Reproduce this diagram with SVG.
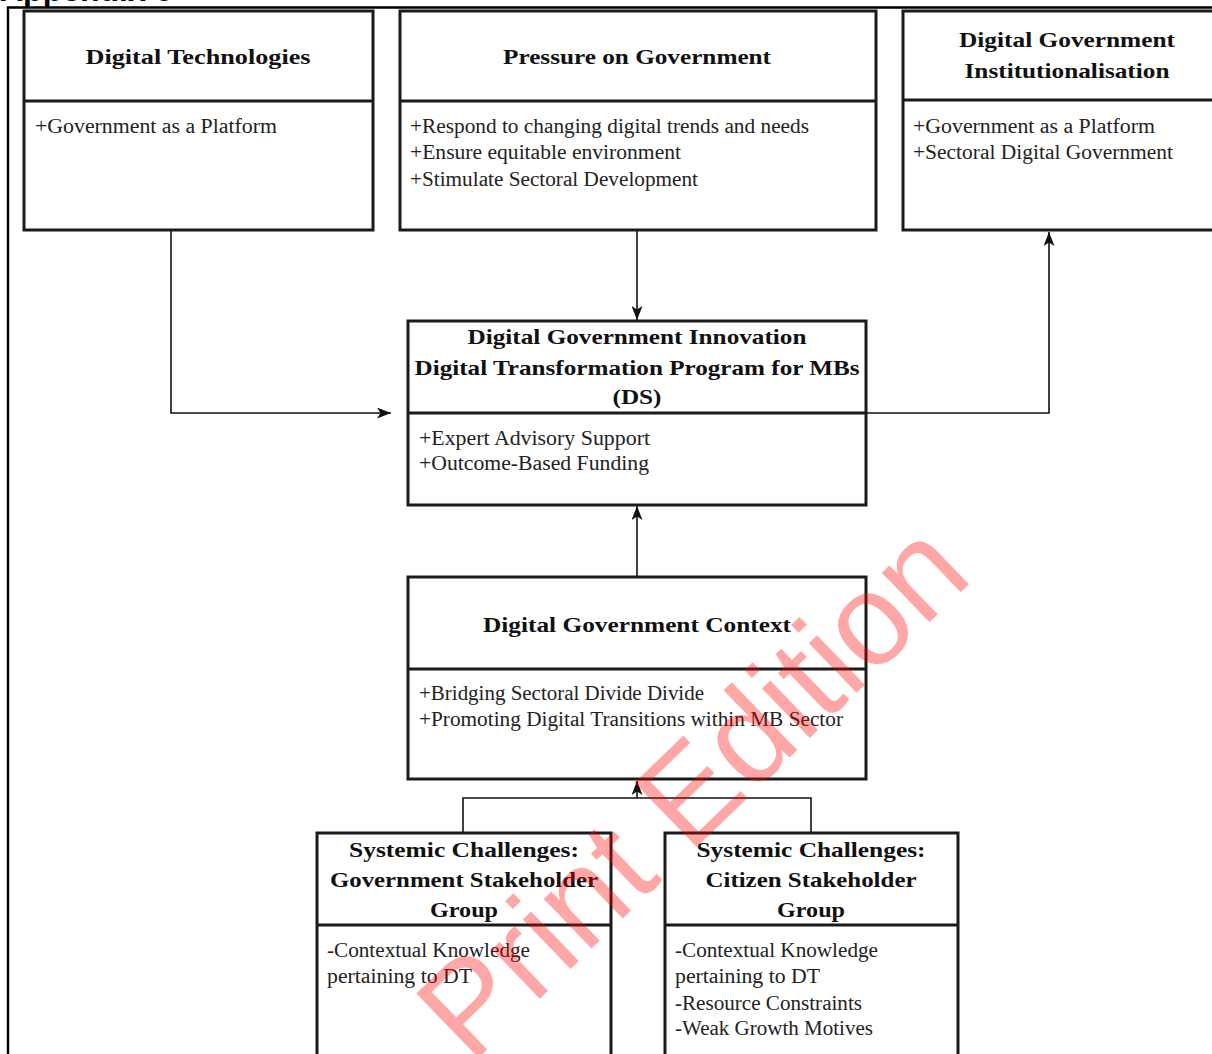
<svg xmlns="http://www.w3.org/2000/svg" width="1212" height="1054" viewBox="0 0 1212 1054">
<style>
.box{fill:#ffffff;stroke:#1a1a1a;stroke-width:3}
.div{stroke:#1a1a1a;stroke-width:3}
.t{font-family:"Liberation Serif","Times New Roman",serif;font-weight:bold;font-size:22px;fill:#111;text-anchor:middle}
.b{font-family:"Liberation Serif","Times New Roman",serif;font-size:20px;fill:#222}
.con{fill:none;stroke:#111;stroke-width:1.6}
.wm{font-family:"Liberation Sans",Arial,sans-serif;font-size:130px;fill:#ff0000;fill-opacity:0.35;text-anchor:middle}
</style>
<defs>
<marker id="arr" markerUnits="userSpaceOnUse" markerWidth="14" markerHeight="11" refX="14" refY="5.5" orient="auto">
<path d="M0,0 L14,5.5 L0,11 L3.5,5.5 Z" fill="#111"/>
</marker>
</defs>
<rect width="1212" height="1054" fill="#ffffff"/>
<text x="0" y="1" font-family="Liberation Sans, Arial, sans-serif" font-weight="bold" font-size="32" fill="#000">Appendix 6</text>
<path d="M8,1054 V7.5 H1212" fill="none" stroke="#000" stroke-width="2.4"/>

<g id="connectors">
<path class="con" d="M171,230 V413 H391" marker-end="url(#arr)"/>
<path class="con" d="M637,230 V320" marker-end="url(#arr)"/>
<path class="con" d="M867,413 H1049 V232" marker-end="url(#arr)"/>
<path class="con" d="M637,577 V506" marker-end="url(#arr)"/>
<path class="con" d="M463,833 V798 H811 V833"/>
<path class="con" d="M637,798 V781" marker-end="url(#arr)"/>
</g>

<g id="node-digital-technologies">
<rect class="box" x="24" y="11" width="349" height="219"/>
<line class="div" x1="24" y1="101" x2="373" y2="101"/>
<text class="t" x="198" y="64" textLength="225" lengthAdjust="spacingAndGlyphs">Digital Technologies</text>
<text class="b" x="35" y="133" textLength="242" lengthAdjust="spacingAndGlyphs">+Government as a Platform</text>
</g>

<g id="node-pressure">
<rect class="box" x="400" y="11" width="476" height="219"/>
<line class="div" x1="400" y1="101" x2="876" y2="101"/>
<text class="t" x="637" y="64" textLength="268" lengthAdjust="spacingAndGlyphs">Pressure on Government</text>
<text class="b" x="410" y="133" textLength="399" lengthAdjust="spacingAndGlyphs">+Respond to changing digital trends and needs</text>
<text class="b" x="410" y="159" textLength="271" lengthAdjust="spacingAndGlyphs">+Ensure equitable environment</text>
<text class="b" x="410" y="186" textLength="288" lengthAdjust="spacingAndGlyphs">+Stimulate Sectoral Development</text>
</g>

<g id="node-institutionalisation">
<rect class="box" x="903" y="11" width="320" height="219"/>
<line class="div" x1="903" y1="100" x2="1223" y2="100"/>
<text class="t" x="1067" y="47" textLength="216" lengthAdjust="spacingAndGlyphs">Digital Government</text>
<text class="t" x="1067" y="78" textLength="205" lengthAdjust="spacingAndGlyphs">Institutionalisation</text>
<text class="b" x="913" y="133" textLength="242" lengthAdjust="spacingAndGlyphs">+Government as a Platform</text>
<text class="b" x="913" y="159" textLength="260" lengthAdjust="spacingAndGlyphs">+Sectoral Digital Government</text>
</g>

<g id="node-innovation">
<rect class="box" x="408" y="321" width="458" height="184"/>
<line class="div" x1="408" y1="413" x2="866" y2="413"/>
<text class="t" x="637" y="344" textLength="339" lengthAdjust="spacingAndGlyphs">Digital Government Innovation</text>
<text class="t" x="637" y="375" textLength="445" lengthAdjust="spacingAndGlyphs">Digital Transformation Program for MBs</text>
<text class="t" x="637" y="404" textLength="49" lengthAdjust="spacingAndGlyphs">(DS)</text>
<text class="b" x="419" y="445" textLength="231" lengthAdjust="spacingAndGlyphs">+Expert Advisory Support</text>
<text class="b" x="419" y="470" textLength="230" lengthAdjust="spacingAndGlyphs">+Outcome-Based Funding</text>
</g>

<g id="node-context">
<rect class="box" x="408" y="577" width="458" height="202"/>
<line class="div" x1="408" y1="669" x2="866" y2="669"/>
<text class="t" x="637" y="632" textLength="308" lengthAdjust="spacingAndGlyphs">Digital Government Context</text>
<text class="b" x="419" y="700" textLength="285" lengthAdjust="spacingAndGlyphs">+Bridging Sectoral Divide Divide</text>
<text class="b" x="419" y="726" textLength="424" lengthAdjust="spacingAndGlyphs">+Promoting Digital Transitions within MB Sector</text>
</g>

<g id="node-gov-stakeholder">
<rect class="box" x="317" y="833" width="294" height="230"/>
<line class="div" x1="317" y1="925" x2="611" y2="925"/>
<text class="t" x="464" y="857" textLength="230" lengthAdjust="spacingAndGlyphs">Systemic Challenges:</text>
<text class="t" x="464" y="887" textLength="268" lengthAdjust="spacingAndGlyphs">Government Stakeholder</text>
<text class="t" x="464" y="917" textLength="68" lengthAdjust="spacingAndGlyphs">Group</text>
<text class="b" x="327" y="957" textLength="203" lengthAdjust="spacingAndGlyphs">-Contextual Knowledge</text>
<text class="b" x="327" y="983" textLength="145" lengthAdjust="spacingAndGlyphs">pertaining to DT</text>
</g>

<g id="node-citizen-stakeholder">
<rect class="box" x="665" y="833" width="293" height="230"/>
<line class="div" x1="665" y1="925" x2="958" y2="925"/>
<text class="t" x="811" y="857" textLength="229" lengthAdjust="spacingAndGlyphs">Systemic Challenges:</text>
<text class="t" x="811" y="887" textLength="211" lengthAdjust="spacingAndGlyphs">Citizen Stakeholder</text>
<text class="t" x="811" y="917" textLength="68" lengthAdjust="spacingAndGlyphs">Group</text>
<text class="b" x="675" y="957" textLength="203" lengthAdjust="spacingAndGlyphs">-Contextual Knowledge</text>
<text class="b" x="675" y="983" textLength="145" lengthAdjust="spacingAndGlyphs">pertaining to DT</text>
<text class="b" x="675" y="1010" textLength="187" lengthAdjust="spacingAndGlyphs">-Resource Constraints</text>
<text class="b" x="675" y="1035" textLength="198" lengthAdjust="spacingAndGlyphs">-Weak Growth Motives</text>
</g>

<text class="wm" transform="translate(700,798) rotate(-44)" x="0" y="33">Print Edition</text>
</svg>
